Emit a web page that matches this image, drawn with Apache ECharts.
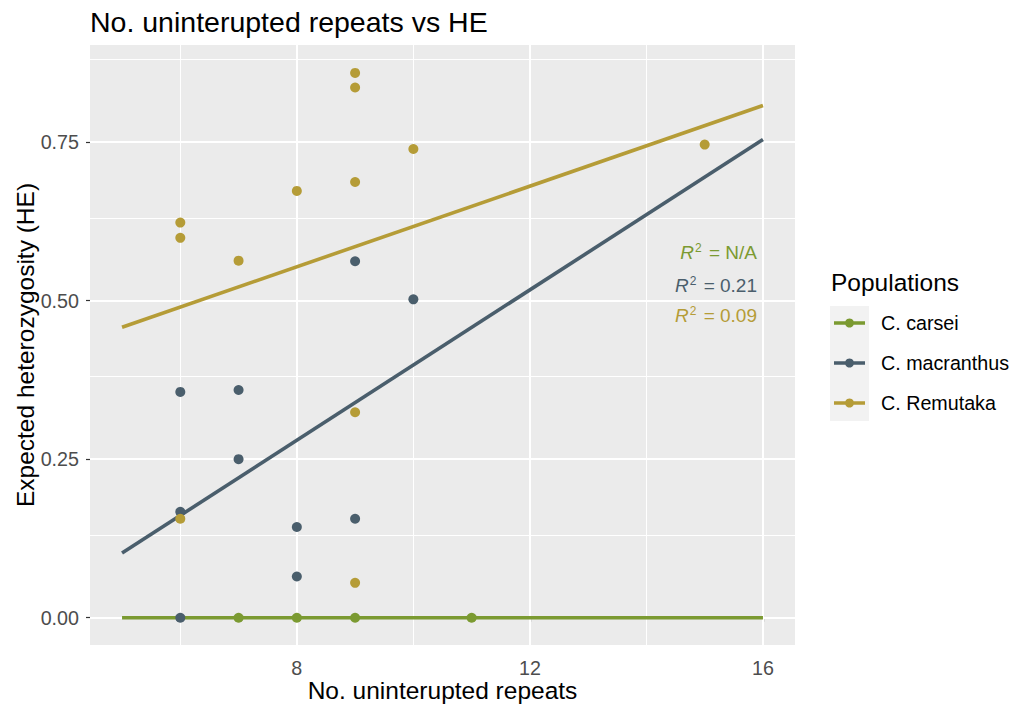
<!DOCTYPE html>
<html>
<head>
<meta charset="utf-8">
<script src="https://cdn.jsdelivr.net/npm/echarts@6/dist/echarts.min.js"></script>
<style>
  html, body { margin: 0; padding: 0; background: #ffffff; }
  #chart { width: 1013px; height: 704px; }
</style>
</head>
<body>
<div id="chart"></div>
<script>
// Repeat counts and expected heterozygosity per population
const carseiX = [7, 8, 9, 11];
const carseiY = [0, 0, 0, 0];
const macranthusX = [6, 6, 6, 7, 7, 8, 8, 9, 9, 10];
const macranthusY = [0.356, 0.167, 0, 0.359, 0.250, 0.143, 0.065, 0.156, 0.562, 0.502];
const remutakaX = [6, 6, 6, 7, 8, 9, 9, 9, 9, 9, 10, 15];
const remutakaY = [0.623, 0.599, 0.156, 0.563, 0.673, 0.859, 0.836, 0.687, 0.324, 0.055, 0.739, 0.746];

// Fitted lines across the full repeat range (start/end values)
const fitX = [5, 16];
const carseiFit = [0, 0];
const macranthusFit = [0.102, 0.754];
const remutakaFit = [0.458, 0.8075];

const populations = ['C. carsei', 'C. macranthus', 'C. Remutaka'];
const r2Labels = ['N/A', '0.21', '0.09'];
const colors = ['#7B9A31', '#4A5E6C', '#B59C37'];

const xTicks = [8, 12, 16];
const xMinor = [6, 10, 14];
const yTicks = [0, 0.25, 0.5, 0.75];
const yMinor = [0.125, 0.375, 0.625, 0.875];

const pairs = (xs, ys) => xs.map((x, i) => [x, ys[i]]);

const chart = echarts.init(document.getElementById('chart'), null, { renderer: 'svg' });

// White panel grid: major lines at the breaks, thinner minor lines between them
const gridLines = [];
xTicks.forEach(v => gridLines.push({ xAxis: v, lineStyle: { width: 2 } }));
xMinor.forEach(v => gridLines.push({ xAxis: v, lineStyle: { width: 1 } }));
yTicks.forEach(v => gridLines.push({ yAxis: v, lineStyle: { width: 2 } }));
yMinor.forEach(v => gridLines.push({ yAxis: v, lineStyle: { width: 1 } }));

const fits = [carseiFit, macranthusFit, remutakaFit];
const ptsX = [carseiX, macranthusX, remutakaX];
const ptsY = [carseiY, macranthusY, remutakaY];

const series = [{
  type: 'line',
  data: [],
  silent: true,
  z: 1,
  markLine: {
    silent: true,
    z: 1,
    symbol: 'none',
    label: { show: false },
    lineStyle: { color: '#ffffff', type: 'solid' },
    data: gridLines
  }
}];

populations.forEach((name, i) => {
  series.push({
    name: name,
    type: 'line',
    data: pairs(fitX, fits[i]),
    symbol: 'circle',
    symbolSize: 9,
    showSymbol: false,
    lineStyle: { color: colors[i], width: 3.6 },
    itemStyle: { color: colors[i] },
    z: 10
  });
});
populations.forEach((name, i) => {
  series.push({
    name: name,
    type: 'scatter',
    data: pairs(ptsX[i], ptsY[i]),
    symbolSize: 10,
    itemStyle: { color: colors[i], opacity: 1 },
    z: 11
  });
});

// R-squared notes, right-aligned inside the panel
const r2Y = [252, 285, 315.5];
const r2Graphics = populations.map((name, i) => ({
  type: 'text',
  x: 757,
  y: r2Y[i],
  z: 20,
  style: {
    text: '{r|R}{s|2}{t| = ' + r2Labels[i] + '}',
    align: 'right',
    verticalAlign: 'middle',
    rich: {
      r: { fontStyle: 'italic', fontSize: 19, fill: colors[i], fontFamily: 'Liberation Sans' },
      s: { fontSize: 12, fill: colors[i], verticalAlign: 'top', fontFamily: 'Liberation Sans', padding: [0, 2, 9, 1] },
      t: { fontSize: 19, fill: colors[i], fontFamily: 'Liberation Sans' }
    }
  }
}));

chart.setOption({
  animation: false,
  textStyle: { fontFamily: 'Liberation Sans' },
  title: {
    text: 'No. uninterupted repeats vs HE',
    left: 85,
    top: 2,
    textStyle: { fontSize: 28.5, fontWeight: 'normal', color: '#000000', fontFamily: 'Liberation Sans' }
  },
  grid: {
    left: 90, right: 218, top: 45, bottom: 59,
    outerBoundsMode: 'none',
    containLabel: false,
    show: true, backgroundColor: '#EBEBEB', borderWidth: 0
  },
  xAxis: {
    type: 'value',
    min: 4.45, max: 16.55,
    name: 'No. uninterupted repeats',
    nameLocation: 'middle',
    nameGap: 33,
    nameMoveOverlap: false,
    nameTextStyle: { fontSize: 24.5, color: '#000000' },
    axisLine: { show: false },
    splitLine: { show: false },
    axisTick: { show: true, customValues: xTicks, length: 4, lineStyle: { color: '#333333', width: 1.2 } },
    axisLabel: { customValues: xTicks, fontSize: 19.7, color: '#4D4D4D', margin: 13 }
  },
  yAxis: {
    type: 'value',
    min: -0.043, max: 0.903,
    name: 'Expected heterozygosity (HE)',
    nameLocation: 'middle',
    nameGap: 52,
    nameMoveOverlap: false,
    nameTextStyle: { fontSize: 24.5, color: '#000000' },
    axisLine: { show: false },
    splitLine: { show: false },
    axisTick: { show: true, customValues: yTicks, length: 4, lineStyle: { color: '#333333', width: 1.2 } },
    axisLabel: { customValues: yTicks, fontSize: 19.7, color: '#4D4D4D', margin: 11, formatter: v => v.toFixed(2) }
  },
  legend: {
    data: populations,
    orient: 'vertical',
    left: 834,
    top: 313,
    padding: 0,
    itemWidth: 31,
    itemHeight: 9,
    itemGap: 20,
    icon: 'path://M0,2.75 L31,2.75 L31,6.25 L0,6.25 Z M15.5,0 A4.5,4.5 0 1 1 15.49,0 Z',
    textStyle: { fontSize: 19.7, color: '#000000', padding: [0, 0, 0, 11] },
    selectedMode: false
  },
  graphic: [
    { type: 'rect', left: 830, top: 306, shape: { width: 39, height: 115 }, style: { fill: '#F2F2F2' }, z: -1 },
    { type: 'text', left: 831, top: 270, style: { text: 'Populations', fontSize: 24.5, fill: '#000000', fontFamily: 'Liberation Sans' } }
  ].concat(r2Graphics),
  series: series
});
</script>
</body>
</html>
